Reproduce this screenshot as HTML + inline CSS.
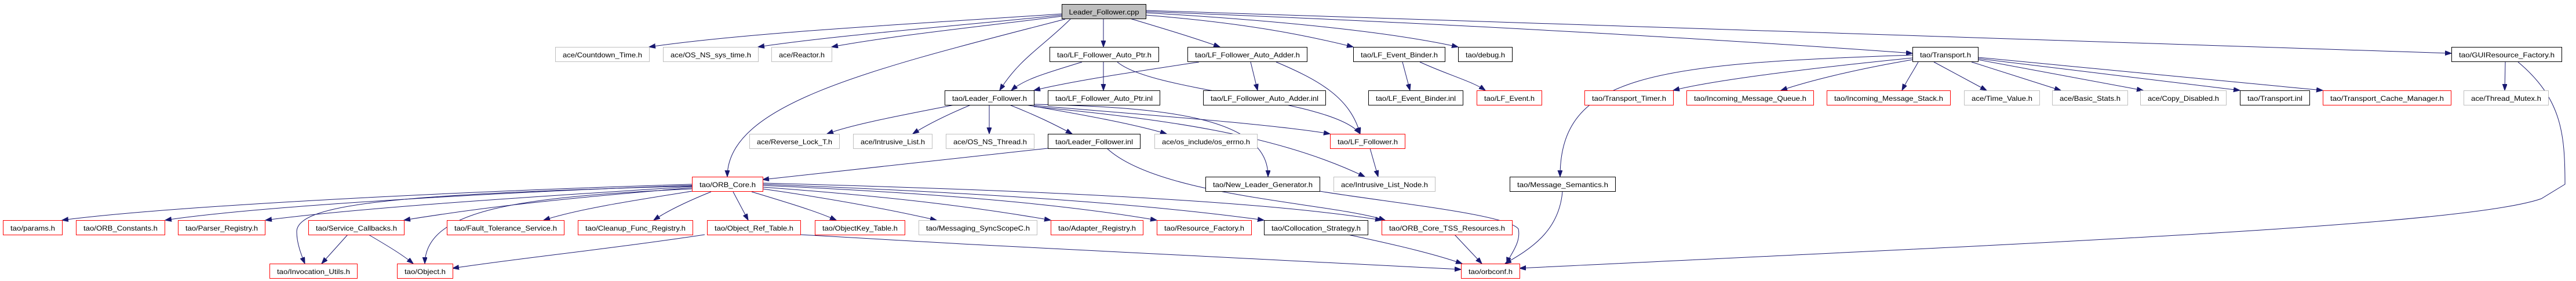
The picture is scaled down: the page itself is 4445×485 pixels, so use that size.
<!DOCTYPE html>
<html><head><meta charset="utf-8"><style>
html,body{margin:0;padding:0;background:#fff;}
svg{display:block;}
text{font-family:"Liberation Sans",sans-serif;font-size:12px;fill:#000;}
.e{fill:none;stroke:#191970;stroke-width:1;}
</style></head><body>
<svg width="4445" height="485" viewBox="0 0 4445 485" xmlns="http://www.w3.org/2000/svg">
<defs>
<marker id="ar" markerUnits="userSpaceOnUse" markerWidth="12" markerHeight="10" refX="11" refY="4" orient="auto">
<path d="M0,0 L11,4 L0,8 Z" fill="#191970" stroke="#191970"/>
</marker>
</defs>
<g marker-end="url(#ar)">
<path class="e" d="M1832,24 C1600,40 1300,55 1120,81"/>
<path class="e" d="M1832,26 C1650,45 1450,60 1308,81"/>
<path class="e" d="M1832,28 C1700,45 1550,60 1435,81"/>
<path class="e" d="M1848,32 C1800,80 1760,100 1725,156"/>
<path class="e" d="M1904,32 L1904,81"/>
<path class="e" d="M1950,32 C2010,50 2060,65 2105,81"/>
<path class="e" d="M1977,26 C2150,40 2250,60 2335,81"/>
<path class="e" d="M1977,22 C2200,35 2400,55 2516,81"/>
<path class="e" d="M1977,20 C2500,40 3000,70 3300,92"/>
<path class="e" d="M1977,18 C2900,45 3800,75 4230,92"/>
<path class="e" d="M1838,33 C1500,120 1255,180 1255,305"/>
<path class="e" d="M1867,107 C1810,125 1770,135 1745,156"/>
<path class="e" d="M1904,107 L1904,156"/>
<path class="e" d="M1928,107 C1990,160 2300,170 2347,231"/>
<path class="e" d="M2069,107 C1950,125 1850,140 1784,156"/>
<path class="e" d="M2158,107 L2170,156"/>
<path class="e" d="M2202,107 C2280,140 2330,170 2347,231"/>
<path class="e" d="M2420,107 L2433,156"/>
<path class="e" d="M2450,107 C2500,130 2540,140 2563,156"/>
<path class="e" d="M1647,181 C1550,200 1470,215 1427,231"/>
<path class="e" d="M1675,181 C1630,200 1600,215 1575,231"/>
<path class="e" d="M1707,181 L1707,231"/>
<path class="e" d="M1742,181 C1790,200 1820,215 1850,231"/>
<path class="e" d="M1770,181 C1880,200 1960,215 2013,231"/>
<path class="e" d="M1784,182 C2000,200 2200,215 2295,231"/>
<path class="e" d="M1784,184 C2000,205 2200,230 2355,305"/>
<path class="e" d="M1784,180 C2000,185 2190,200 2188,305"/>
<path class="e" d="M1808,256 C1600,280 1400,300 1316,310"/>
<path class="e" d="M1910,256 C2000,340 2300,350 2390,380"/>
<path class="e" d="M2364,256 L2378,305"/>
<path class="e" d="M2277,330 C2400,350 2600,370 2620,395 C2625,420 2605,440 2600,455"/>
<path class="e" d="M3300,95 C2850,110 2692,130 2692,305"/>
<path class="e" d="M3300,100 C3100,120 2950,140 2887,156"/>
<path class="e" d="M3300,103 C3200,120 3120,140 3073,156"/>
<path class="e" d="M3310,107 C3300,125 3290,140 3282,156"/>
<path class="e" d="M3337,107 L3428,156"/>
<path class="e" d="M3402,107 L3556,156"/>
<path class="e" d="M3413,103 L3698,156"/>
<path class="e" d="M3413,101 L3865,156"/>
<path class="e" d="M3413,99 L4008,156"/>
<path class="e" d="M4323,107 L4322,156"/>
<path class="e" d="M4345,107 C4420,170 4426,230 4426,318 L4385,343 C4250,390 3500,420 2622,463"/>
<path class="e" d="M2696,331 C2690,400 2640,430 2597,455"/>
<path class="e" d="M1194,318 C800,330 300,355 107,380"/>
<path class="e" d="M1194,320 C900,330 450,355 285,380"/>
<path class="e" d="M1194,322 C1000,335 650,355 458,380"/>
<path class="e" d="M1194,324 C1000,340 850,355 697,380"/>
<path class="e" d="M1194,330 C1100,345 1000,360 938,380"/>
<path class="e" d="M1227,331 C1180,350 1150,365 1128,380"/>
<path class="e" d="M1265,331 L1291,380"/>
<path class="e" d="M1297,331 C1360,350 1410,365 1443,380"/>
<path class="e" d="M1316,326 C1450,345 1550,365 1616,380"/>
<path class="e" d="M1316,323 C1550,340 1700,360 1813,380"/>
<path class="e" d="M1316,320 C1650,335 1850,355 1996,380"/>
<path class="e" d="M1316,318 C1750,335 2000,355 2181,380"/>
<path class="e" d="M1316,316 C1850,330 2200,350 2384,380"/>
<path class="e" d="M1194,321 C700,335 512,350 512,400 C512,420 520,440 526,455"/>
<path class="e" d="M1194,326 C900,340 735,360 733,455"/>
<path class="e" d="M600,405 L555,455"/>
<path class="e" d="M636,405 C670,425 695,440 713,455"/>
<path class="e" d="M1216,405 C1050,430 900,445 781,463"/>
<path class="e" d="M1381,405 C1800,430 2300,455 2521,465"/>
<path class="e" d="M2326,405 C2420,425 2480,440 2523,455"/>
<path class="e" d="M2510,405 L2557,455"/>
</g>
<g stroke-width="1">
<!-- row0 -->
<rect x="1832.5" y="7.5" width="145" height="25" fill="#bfbfbf" stroke="#000"/><text x="1905" y="25" text-anchor="middle" textLength="121" lengthAdjust="spacingAndGlyphs">Leader_Follower.cpp</text>
<!-- row1 -->
<rect x="958.5" y="81.5" width="162" height="25" fill="#fff" stroke="#bfbfbf"/><text x="1039.5" y="99" text-anchor="middle" textLength="137" lengthAdjust="spacingAndGlyphs">ace/Countdown_Time.h</text>
<rect x="1144.5" y="81.5" width="164" height="25" fill="#fff" stroke="#bfbfbf"/><text x="1226.5" y="99" text-anchor="middle" textLength="139" lengthAdjust="spacingAndGlyphs">ace/OS_NS_sys_time.h</text>
<rect x="1331.5" y="81.5" width="104" height="25" fill="#fff" stroke="#bfbfbf"/><text x="1383.5" y="99" text-anchor="middle" textLength="79" lengthAdjust="spacingAndGlyphs">ace/Reactor.h</text>
<rect x="1811.5" y="81.5" width="188" height="25" fill="#fff" stroke="#000"/><text x="1905.5" y="99" text-anchor="middle" textLength="163" lengthAdjust="spacingAndGlyphs">tao/LF_Follower_Auto_Ptr.h</text>
<rect x="2049.5" y="81.5" width="206" height="25" fill="#fff" stroke="#000"/><text x="2152.5" y="99" text-anchor="middle" textLength="181" lengthAdjust="spacingAndGlyphs">tao/LF_Follower_Auto_Adder.h</text>
<rect x="2335.5" y="81.5" width="158" height="25" fill="#fff" stroke="#000"/><text x="2414.5" y="99" text-anchor="middle" textLength="133" lengthAdjust="spacingAndGlyphs">tao/LF_Event_Binder.h</text>
<rect x="2516.5" y="81.5" width="93" height="25" fill="#fff" stroke="#000"/><text x="2563" y="99" text-anchor="middle" textLength="68" lengthAdjust="spacingAndGlyphs">tao/debug.h</text>
<rect x="3300.5" y="81.5" width="113" height="25" fill="#fff" stroke="#000"/><text x="3357" y="99" text-anchor="middle" textLength="88" lengthAdjust="spacingAndGlyphs">tao/Transport.h</text>
<rect x="4230.5" y="81.5" width="190" height="25" fill="#fff" stroke="#000"/><text x="4325.5" y="99" text-anchor="middle" textLength="165" lengthAdjust="spacingAndGlyphs">tao/GUIResource_Factory.h</text>
<!-- row2 -->
<rect x="1630.5" y="156.5" width="154" height="25" fill="#fff" stroke="#000"/><text x="1707.5" y="174" text-anchor="middle" textLength="129" lengthAdjust="spacingAndGlyphs">tao/Leader_Follower.h</text>
<rect x="1808.5" y="156.5" width="193" height="25" fill="#fff" stroke="#000"/><text x="1905" y="174" text-anchor="middle" textLength="168" lengthAdjust="spacingAndGlyphs">tao/LF_Follower_Auto_Ptr.inl</text>
<rect x="2076.5" y="156.5" width="211" height="25" fill="#fff" stroke="#000"/><text x="2182" y="174" text-anchor="middle" textLength="186" lengthAdjust="spacingAndGlyphs">tao/LF_Follower_Auto_Adder.inl</text>
<rect x="2361.5" y="156.5" width="163" height="25" fill="#fff" stroke="#000"/><text x="2443" y="174" text-anchor="middle" textLength="138" lengthAdjust="spacingAndGlyphs">tao/LF_Event_Binder.inl</text>
<rect x="2548.5" y="156.5" width="112" height="25" fill="#fff" stroke="#f00"/><text x="2604.5" y="174" text-anchor="middle" textLength="87" lengthAdjust="spacingAndGlyphs">tao/LF_Event.h</text>
<rect x="2734.5" y="156.5" width="153" height="25" fill="#fff" stroke="#f00"/><text x="2811" y="174" text-anchor="middle" textLength="128" lengthAdjust="spacingAndGlyphs">tao/Transport_Timer.h</text>
<rect x="2910.5" y="156.5" width="219" height="25" fill="#fff" stroke="#f00"/><text x="3020" y="174" text-anchor="middle" textLength="194" lengthAdjust="spacingAndGlyphs">tao/Incoming_Message_Queue.h</text>
<rect x="3152.5" y="156.5" width="213" height="25" fill="#fff" stroke="#f00"/><text x="3259" y="174" text-anchor="middle" textLength="188" lengthAdjust="spacingAndGlyphs">tao/Incoming_Message_Stack.h</text>
<rect x="3389.5" y="156.5" width="130" height="25" fill="#fff" stroke="#bfbfbf"/><text x="3454.5" y="174" text-anchor="middle" textLength="105" lengthAdjust="spacingAndGlyphs">ace/Time_Value.h</text>
<rect x="3541.5" y="156.5" width="130" height="25" fill="#fff" stroke="#bfbfbf"/><text x="3606.5" y="174" text-anchor="middle" textLength="105" lengthAdjust="spacingAndGlyphs">ace/Basic_Stats.h</text>
<rect x="3693.5" y="156.5" width="148" height="25" fill="#fff" stroke="#bfbfbf"/><text x="3767.5" y="174" text-anchor="middle" textLength="123" lengthAdjust="spacingAndGlyphs">ace/Copy_Disabled.h</text>
<rect x="3865.5" y="156.5" width="120" height="25" fill="#fff" stroke="#000"/><text x="3925.5" y="174" text-anchor="middle" textLength="95" lengthAdjust="spacingAndGlyphs">tao/Transport.inl</text>
<rect x="4008.5" y="156.5" width="221" height="25" fill="#fff" stroke="#f00"/><text x="4119" y="174" text-anchor="middle" textLength="196" lengthAdjust="spacingAndGlyphs">tao/Transport_Cache_Manager.h</text>
<rect x="4251.5" y="156.5" width="146" height="25" fill="#fff" stroke="#bfbfbf"/><text x="4324.5" y="174" text-anchor="middle" textLength="121" lengthAdjust="spacingAndGlyphs">ace/Thread_Mutex.h</text>
<!-- row3 -->
<rect x="1293.5" y="231.5" width="155" height="25" fill="#fff" stroke="#bfbfbf"/><text x="1371" y="249" text-anchor="middle" textLength="130" lengthAdjust="spacingAndGlyphs">ace/Reverse_Lock_T.h</text>
<rect x="1472.5" y="231.5" width="136" height="25" fill="#fff" stroke="#bfbfbf"/><text x="1540.5" y="249" text-anchor="middle" textLength="111" lengthAdjust="spacingAndGlyphs">ace/Intrusive_List.h</text>
<rect x="1632.5" y="231.5" width="152" height="25" fill="#fff" stroke="#bfbfbf"/><text x="1708.5" y="249" text-anchor="middle" textLength="127" lengthAdjust="spacingAndGlyphs">ace/OS_NS_Thread.h</text>
<rect x="1808.5" y="231.5" width="159" height="25" fill="#fff" stroke="#000"/><text x="1888" y="249" text-anchor="middle" textLength="134" lengthAdjust="spacingAndGlyphs">tao/Leader_Follower.inl</text>
<rect x="1992.5" y="231.5" width="177" height="25" fill="#fff" stroke="#bfbfbf"/><text x="2081" y="249" text-anchor="middle" textLength="152" lengthAdjust="spacingAndGlyphs">ace/os_include/os_errno.h</text>
<rect x="2295.5" y="231.5" width="129" height="25" fill="#fff" stroke="#f00"/><text x="2360" y="249" text-anchor="middle" textLength="104" lengthAdjust="spacingAndGlyphs">tao/LF_Follower.h</text>
<!-- row4 -->
<rect x="1194.5" y="305.5" width="122" height="25" fill="#fff" stroke="#f00"/><text x="1255.5" y="323" text-anchor="middle" textLength="97" lengthAdjust="spacingAndGlyphs">tao/ORB_Core.h</text>
<rect x="2080.5" y="305.5" width="197" height="25" fill="#fff" stroke="#000"/><text x="2179" y="323" text-anchor="middle" textLength="172" lengthAdjust="spacingAndGlyphs">tao/New_Leader_Generator.h</text>
<rect x="2301.5" y="305.5" width="175" height="25" fill="#fff" stroke="#bfbfbf"/><text x="2389" y="323" text-anchor="middle" textLength="150" lengthAdjust="spacingAndGlyphs">ace/Intrusive_List_Node.h</text>
<rect x="2605.5" y="305.5" width="182" height="25" fill="#fff" stroke="#000"/><text x="2696.5" y="323" text-anchor="middle" textLength="157" lengthAdjust="spacingAndGlyphs">tao/Message_Semantics.h</text>
<!-- row5 -->
<rect x="5.5" y="380.5" width="102" height="25" fill="#fff" stroke="#f00"/><text x="56.5" y="398" text-anchor="middle" textLength="77" lengthAdjust="spacingAndGlyphs">tao/params.h</text>
<rect x="131.5" y="380.5" width="153" height="25" fill="#fff" stroke="#f00"/><text x="208" y="398" text-anchor="middle" textLength="128" lengthAdjust="spacingAndGlyphs">tao/ORB_Constants.h</text>
<rect x="307.5" y="380.5" width="150" height="25" fill="#fff" stroke="#f00"/><text x="382.5" y="398" text-anchor="middle" textLength="125" lengthAdjust="spacingAndGlyphs">tao/Parser_Registry.h</text>
<rect x="532.5" y="380.5" width="165" height="25" fill="#fff" stroke="#f00"/><text x="615" y="398" text-anchor="middle" textLength="140" lengthAdjust="spacingAndGlyphs">tao/Service_Callbacks.h</text>
<rect x="771.5" y="380.5" width="202" height="25" fill="#fff" stroke="#f00"/><text x="872.5" y="398" text-anchor="middle" textLength="177" lengthAdjust="spacingAndGlyphs">tao/Fault_Tolerance_Service.h</text>
<rect x="997.5" y="380.5" width="198" height="25" fill="#fff" stroke="#f00"/><text x="1096.5" y="398" text-anchor="middle" textLength="173" lengthAdjust="spacingAndGlyphs">tao/Cleanup_Func_Registry.h</text>
<rect x="1220.5" y="380.5" width="161" height="25" fill="#fff" stroke="#f00"/><text x="1301" y="398" text-anchor="middle" textLength="136" lengthAdjust="spacingAndGlyphs">tao/Object_Ref_Table.h</text>
<rect x="1406.5" y="380.5" width="155" height="25" fill="#fff" stroke="#f00"/><text x="1484" y="398" text-anchor="middle" textLength="130" lengthAdjust="spacingAndGlyphs">tao/ObjectKey_Table.h</text>
<rect x="1585.5" y="380.5" width="204" height="25" fill="#fff" stroke="#bfbfbf"/><text x="1687.5" y="398" text-anchor="middle" textLength="179" lengthAdjust="spacingAndGlyphs">tao/Messaging_SyncScopeC.h</text>
<rect x="1813.5" y="380.5" width="159" height="25" fill="#fff" stroke="#f00"/><text x="1893" y="398" text-anchor="middle" textLength="134" lengthAdjust="spacingAndGlyphs">tao/Adapter_Registry.h</text>
<rect x="1996.5" y="380.5" width="163" height="25" fill="#fff" stroke="#f00"/><text x="2078" y="398" text-anchor="middle" textLength="138" lengthAdjust="spacingAndGlyphs">tao/Resource_Factory.h</text>
<rect x="2181.5" y="380.5" width="179" height="25" fill="#fff" stroke="#000"/><text x="2271" y="398" text-anchor="middle" textLength="154" lengthAdjust="spacingAndGlyphs">tao/Collocation_Strategy.h</text>
<rect x="2384.5" y="380.5" width="225" height="25" fill="#fff" stroke="#f00"/><text x="2497" y="398" text-anchor="middle" textLength="200" lengthAdjust="spacingAndGlyphs">tao/ORB_Core_TSS_Resources.h</text>
<!-- row6 -->
<rect x="465.5" y="455.5" width="151" height="25" fill="#fff" stroke="#f00"/><text x="541" y="473" text-anchor="middle" textLength="126" lengthAdjust="spacingAndGlyphs">tao/Invocation_Utils.h</text>
<rect x="685.5" y="455.5" width="96" height="25" fill="#fff" stroke="#f00"/><text x="733.5" y="473" text-anchor="middle" textLength="71" lengthAdjust="spacingAndGlyphs">tao/Object.h</text>
<rect x="2521.5" y="455.5" width="101" height="25" fill="#fff" stroke="#f00"/><text x="2572" y="473" text-anchor="middle" textLength="76" lengthAdjust="spacingAndGlyphs">tao/orbconf.h</text>
</g>
</svg>
</body></html>
